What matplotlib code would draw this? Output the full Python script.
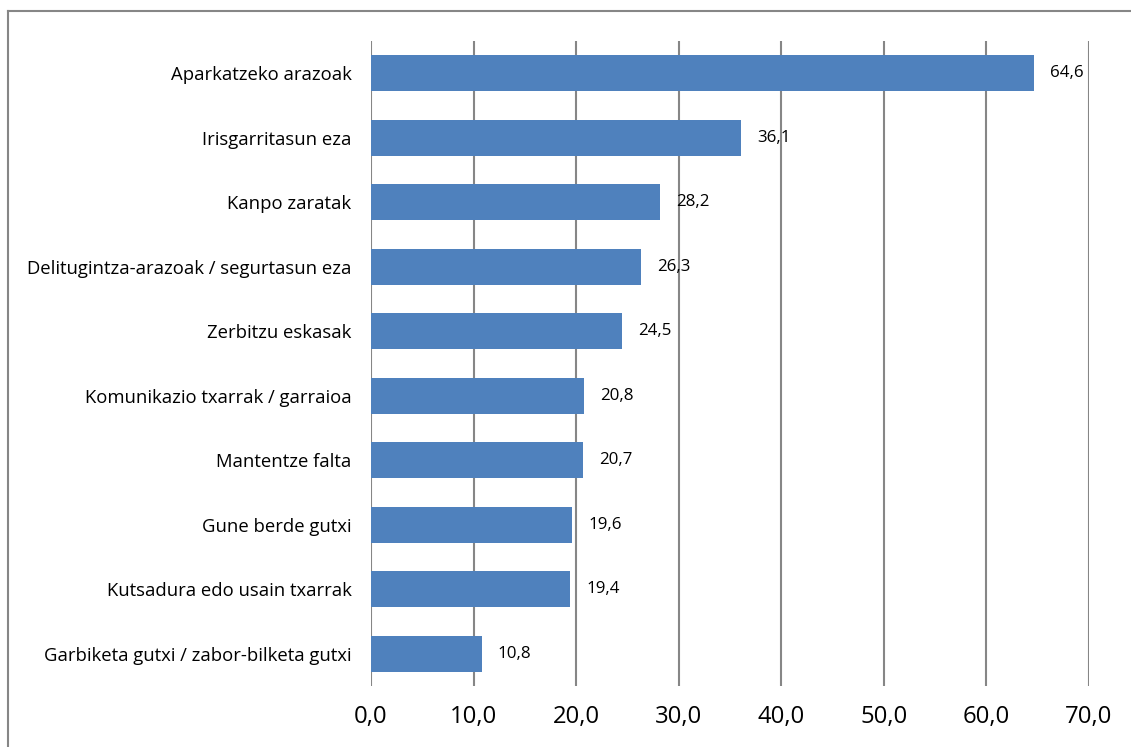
import numpy as np
import matplotlib.pyplot as plt
from matplotlib.lines import Line2D

categories = [
    "Aparkatzeko arazoak",
    "Irisgarritasun eza",
    "Kanpo zaratak",
    "Delitugintza-arazoak / segurtasun eza",
    "Zerbitzu eskasak",
    "Komunikazio txarrak / garraioa",
    "Mantentze falta",
    "Gune berde gutxi",
    "Kutsadura edo usain txarrak",
    "Garbiketa gutxi / zabor-bilketa gutxi",
]
values = [64.6, 36.1, 28.2, 26.3, 24.5, 20.8, 20.7, 19.6, 19.4, 10.8]
xticks = [0, 10, 20, 30, 40, 50, 60, 70]

plt.rcParams['font.family'] = ['Open Sans', 'DejaVu Sans']

fig = plt.figure(figsize=(11.31, 7.47), dpi=100)
ax = fig.add_axes([371 / 1131, 1 - 686 / 747, (1089 - 371) / 1131, (686 - 41) / 747])

y = np.arange(len(categories))
ax.barh(y, values, height=0.56, color='#4F81BD', zorder=3)

# value labels
for yi, v in zip(y, values):
    ax.annotate(f"{v:.1f}".replace('.', ','), (v, yi), xytext=(16, 0),
                textcoords='offset pixels',
                va='center', ha='left', fontsize=12.2, color='black')

ax.set_xlim(0, 70)
ax.set_ylim(len(categories) - 0.5, -0.5)
ax.set_yticks(y)
ax.set_yticklabels(categories, fontsize=13.3)
ax.set_xticks(xticks)
ax.set_xticklabels([f"{t:.1f}".replace('.', ',') for t in xticks], fontsize=17.2)
ax.tick_params(axis='y', length=0, pad=14)
ax.tick_params(axis='x', length=0, pad=14)
ax.xaxis.grid(True, color='#868686', linewidth=1.5, zorder=0)
for s in ax.spines.values():
    s.set_visible(False)

# chart area border (left and top edges visible)
fig.add_artist(Line2D([8 / 1131, 8 / 1131], [0, 1 - 11 / 747], transform=fig.transFigure,
                      color='#868686', linewidth=1.5))
fig.add_artist(Line2D([8 / 1131, 1], [1 - 11 / 747, 1 - 11 / 747], transform=fig.transFigure,
                      color='#868686', linewidth=1.5))

fig.savefig('out.png', dpi=100)
